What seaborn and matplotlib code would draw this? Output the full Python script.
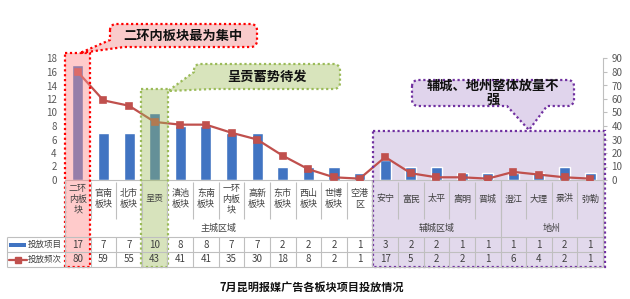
import numpy as np
import matplotlib
matplotlib.use("Agg")
import matplotlib.pyplot as plt
import seaborn as sns
from matplotlib.transforms import blended_transform_factory
from matplotlib.patches import Rectangle, Polygon

# ---------------- data ----------------
categories = ["二环内板块", "官南板块", "北市板块", "呈贡", "滇池板块", "东南板块",
              "一环内板块", "高新板块", "东市板块", "西山板块", "世博板块", "空港区",
              "安宁", "富民", "太平", "嵩明", "晋城",
              "澄江", "大理", "景洪", "弥勒"]
cat_labels = ["二环\n内板\n块", "官南\n板块", "北市\n板块", "呈贡", "滇池\n板块", "东南\n板块",
              "一环\n内板\n块", "高新\n板块", "东市\n板块", "西山\n板块", "世博\n板块", "空港\n区",
              "安宁", "富民", "太平", "嵩明", "晋城",
              "澄江", "大理", "景洪", "弥勒"]
items = [17, 7, 7, 10, 8, 8, 7, 7, 2, 2, 2, 1, 3, 2, 2, 1, 1, 1, 1, 2, 1]
freq = [80, 59, 55, 43, 41, 41, 35, 30, 18, 8, 2, 1, 17, 5, 2, 2, 1, 6, 4, 2, 1]
groups = ["主城区域", "辅城区域", "地州"]
group_sizes = [12, 5, 4]
series_names = ["投放项目", "投放频次"]
title = "7月昆明报媒广告各板块项目投放情况"
notes = ["二环内板块最为集中", "呈贡蓄势待发", "辅城、地州整体放量不\n强"]

# ---------------- style ----------------
sns.set_style("white")
plt.rcParams["font.family"] = ["Noto Sans CJK SC", "DejaVu Sans"]

BLUE = "#4174C2"
RED = "#C0504D"
GRID = "#BFBFBF"
TXT = "#404040"

W_PX, H_PX = 630, 299
fig = plt.figure(figsize=(W_PX / 100, H_PX / 100), dpi=100)
fig.patch.set_facecolor("white")

L, R, B, T = 65, 603, 180, 58.5
def fx(px): return px / W_PX
def fy(py): return 1 - py / H_PX

# underlay (purple region fill)
under = fig.add_axes([0, 0, 1, 1], zorder=-1)
under.set_xlim(0, W_PX); under.set_ylim(H_PX, 0); under.axis("off")

ax = fig.add_axes([fx(L), fy(B), fx(R) - fx(L), fy(T) - fy(B)], zorder=1)
ax.patch.set_visible(False)
sns.barplot(x=categories, y=items, ax=ax, color=BLUE, width=0.43, saturation=1)
ax.set_ylim(0, 18)
ax.set_yticks(np.arange(0, 19, 2))
ax.set_xlim(-0.5, len(categories) - 0.5)
ax.set_xticks([])
ax.set_xlabel(""); ax.set_ylabel("")
ax.tick_params(axis="y", labelsize=7, labelcolor="#595959", length=0, pad=6)
for s in ["left", "right", "top"]:
    ax.spines[s].set_visible(False)
ax.spines["bottom"].set_color(GRID)
ax.spines["bottom"].set_linewidth(0.8)

ax2 = ax.twinx()
sns.pointplot(x=categories, y=freq, ax=ax2, color=RED, marker="s",
              markersize=4.5, linewidth=1.6)
ax2.set_ylim(0, 90)
ax2.set_yticks(np.arange(0, 91, 10))
ax2.set_xlim(-0.5, len(categories) - 0.5)
ax2.set_xticks([])
ax2.set_xlabel(""); ax2.set_ylabel("")
ax2.tick_params(axis="y", labelsize=7, labelcolor="#595959", length=3,
                color=GRID, pad=3, direction="out")
for s in ["left", "top", "bottom"]:
    ax2.spines[s].set_visible(False)
ax2.spines["right"].set_color(GRID)
ax2.spines["right"].set_linewidth(0.8)

# overlay axes in pixel coords
ov = fig.add_axes([0, 0, 1, 1], zorder=3)
ov.set_xlim(0, W_PX); ov.set_ylim(H_PX, 0); ov.axis("off")
ov.patch.set_visible(False)
bt = blended_transform_factory(ax.transData, ov.transData)
n = len(categories)

# ---------- table ----------
lk = dict(color=GRID, lw=0.8, solid_capstyle="butt")
ov.plot([7, R], [237, 237], **lk)
ov.plot([7, R], [252, 252], **lk)
ov.plot([7, R], [267, 267], **lk)
ov.plot([7, 7], [237, 267], **lk)
for i in range(n + 1):
    ov.plot([i - 0.5, i - 0.5], [237, 267], transform=bt, **lk)
    ov.plot([i - 0.5, i - 0.5], [182, 219], transform=bt, **lk)
gb = np.concatenate([[0], np.cumsum(group_sizes)])
for b in gb:
    ov.plot([b - 0.5, b - 0.5], [180, 237], transform=bt, **lk)

for i, lab in enumerate(cat_labels):
    ov.text(i, 199, lab, transform=bt, ha="center", va="center", fontsize=6.5,
            color=TXT, linespacing=1.25)
    ov.text(i, 244.5, str(items[i]), transform=bt, ha="center", va="center",
            fontsize=7, color=TXT)
    ov.text(i, 259.5, str(freq[i]), transform=bt, ha="center", va="center",
            fontsize=7, color=TXT)
for g, a, b in zip(groups, gb[:-1], gb[1:]):
    ov.text((a + b - 1) / 2, 228, g, transform=bt, ha="center", va="center",
            fontsize=6.5, color=TXT)

# legend column
ov.add_patch(Rectangle((9, 242.5), 17, 4, color=BLUE, lw=0))
ov.plot([9, 27], [259.5, 259.5], color=RED, lw=1.6)
ov.plot([18], [259.5], marker="s", color=RED, markersize=4.5)
ov.text(28, 244.5, series_names[0], ha="left", va="center", fontsize=6.1, color=TXT)
ov.text(28, 259.5, series_names[1], ha="left", va="center", fontsize=6.1, color=TXT)

# ---------- highlight regions ----------
dot = (0, (1, 1.2))
# red
ov.add_patch(Rectangle((L, 53), 25, 267 - 53, facecolor="#FF8C8C", alpha=0.45, lw=0))
ov.add_patch(Rectangle((L, 53), 25, 267 - 53, fill=False, edgecolor="#FF0000",
                       lw=1.6, linestyle=dot))
# green
ov.add_patch(Rectangle((141, 89), 27, 267 - 89, facecolor="#9BBB59", alpha=0.4, lw=0))
ov.add_patch(Rectangle((141, 89), 27, 267 - 89, fill=False, edgecolor="#9BBB59",
                       lw=1.6, linestyle=dot))
# purple
under.add_patch(Rectangle((373, 131), 232, 267 - 131, facecolor="#E2D9EC", lw=0))
ov.add_patch(Rectangle((373, 131), 232, 267 - 131, fill=False, edgecolor="#7030A0",
                       lw=1.6, linestyle=dot))

# ---------- callouts ----------
def rounded_pts(x0, y0, x1, y1, r, tail=None):
    pts = []
    def arc(cx, cy, a0, a1):
        for a in np.linspace(a0, a1, 8):
            pts.append((cx + r * np.cos(np.radians(a)), cy + r * np.sin(np.radians(a))))
    arc(x0 + r, y0 + r, 180, 270)
    arc(x1 - r, y0 + r, 270, 360)
    arc(x1 - r, y1 - r, 0, 90)
    if tail and tail[0] == "bottom":
        xa, xb, tip = tail[1]
        pts += [(xb, y1), tip, (xa, y1)]
    if tail and tail[0] == "bl":
        bx, ly, tip = tail[1]
        pts += [(bx, y1), tip, (x0, ly)]
    else:
        arc(x0 + r, y1 - r, 90, 180)
    return pts

def callout(pts, fc, ec):
    ov.add_patch(Polygon(pts, closed=True, facecolor=fc, edgecolor=ec, lw=1.6,
                         linestyle=dot, joinstyle="round"))

callout(rounded_pts(110, 24, 257, 47, 6, ("bl", (124, 40, (80, 53)))), "#F9CBCB", "#FF0000")
ov.text(183, 35.5, notes[0], ha="center", va="center", fontsize=9.5,
        fontweight="bold", color="#111111")

callout(rounded_pts(194, 64, 340, 89, 6, ("bl", (212, 72, (168, 91)))), "#D8E4BC", "#9BBB59")
ov.text(267, 76.5, notes[1], ha="center", va="center", fontsize=9.5,
        fontweight="bold", color="#111111")

callout(rounded_pts(412, 80, 574, 106, 6, ("bottom", (507, 547, (529, 130)))), "#E0D4EC", "#7030A0")
ov.text(493, 93, notes[2], ha="center", va="center", fontsize=9.5,
        fontweight="bold", color="#111111", linespacing=1.0)

# title
ov.text(312, 287, title, ha="center", va="center", fontsize=8, fontweight="bold",
        color="#111111")

fig.savefig("out.png", dpi=100, facecolor="white")
